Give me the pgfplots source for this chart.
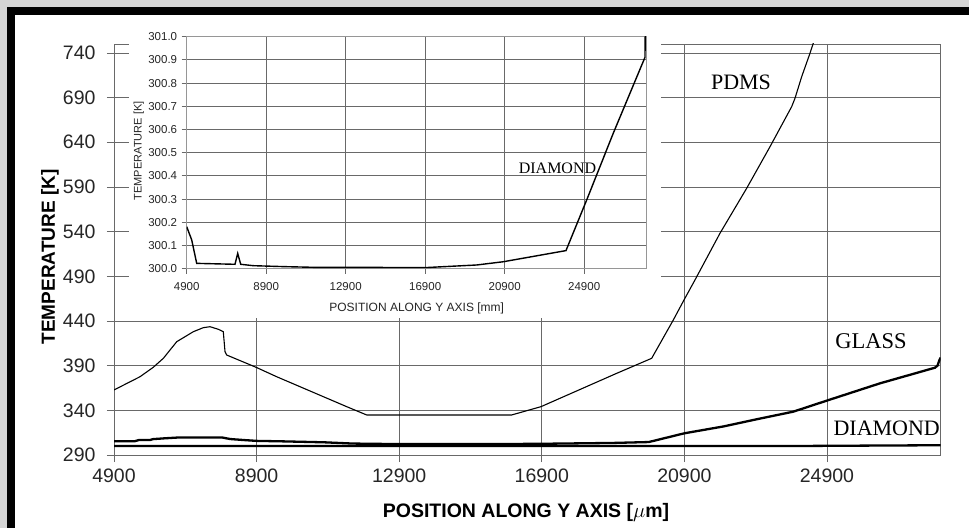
\documentclass[border=0pt]{standalone}
\usepackage{pgfplots}
\pgfplotsset{compat=1.18}
\usepackage{fontspec}
\setmainfont{Liberation Sans}
\newfontfamily\timesf{Liberation Serif}
\definecolor{framegray}{RGB}{212,212,212}
\definecolor{gridgray}{RGB}{105,105,105}
\begin{document}
\begin{tikzpicture}[x=1pt,y=1pt]
\fill[white] (0,0) rectangle (969,528);
\fill[framegray] (0,0) rectangle (7,528);
\fill[framegray] (0,521) rectangle (969,528);
\fill[black] (7,0) rectangle (15,521);
\fill[black] (7,513) rectangle (969,521);
\begin{axis}[
  at={(114pt,73pt)}, anchor=south west, scale only axis,
  width=826.7pt, height=411pt,
  xmin=4900, xmax=28090, ymin=290, ymax=750,
  xtick={4900,8900,12900,16900,20900,24900},
  ytick={290,340,390,440,490,540,590,640,690,740},
  grid=major, grid style={gridgray, line width=0.8pt},
  axis line style={gridgray, line width=0.8pt},
  tick style={gridgray, line width=0.8pt},
  tick pos=left, tick align=outside, major tick length=7pt,
  scaled ticks=false,
  /pgf/number format/assume math mode=true,
  /pgf/number format/1000 sep={},
  tick label style={font=\fontsize{19.5}{20}\selectfont, text=black!85, inner sep=0pt},
  xticklabel shift=7pt, yticklabel shift=11.3pt,
  xlabel={POSITION ALONG Y AXIS [$\mu$m]},
  ylabel={TEMPERATURE [K]},
  xlabel style={at={(axis description cs:0.4984,-0.1516)}, anchor=base, font=\bfseries\fontsize{19.5}{20}\selectfont, inner sep=0pt},
  ylabel style={at={(axis description cs:-0.0714,0.482)}, anchor=base, font=\bfseries\fontsize{19}{20}\selectfont, inner sep=0pt},
]
% PDMS
\addplot[black, line width=1.1pt] coordinates {
(4900,362.8) (5629,377.6) (6003,388.2) (6284,398.2) (6659,416.8) (7125,428) (7405,432.5) (7593,433.6) (7826,430.7) (7966,428) (8014,405.6) (8061,401.9) (8883,388.2) (9464,377.6) (10771,355.3) (11427,344.1) (11988,334.8) (16055,334.8) (16877,344.1) (19000,381.4) (19982,398.2) (20589,441.1) (20889,463.5) (21197,485.9) (21899,538.2) (22647,588.5) (23301,635) (23910,679.9) (24002,689.2) (24190,713.4) (24423,739.6) (24516,750.8) (24600,762)
};
% GLASS
\addplot[black, line width=2.3pt] coordinates {
(4900,305.5) (5489,305.5) (5600,306.8) (5910,306.8) (6000,307.8) (6331,308.7) (6751,309.7) (7921,309.7) (8154,307.9) (8520,306.8) (8900,305.8) (9600,305.3) (10800,304.2) (11600,302.8) (12900,302.2) (16000,302.3) (17200,302.7) (18900,303.5) (19900,304.5) (20900,314.3) (22000,322) (22928,330) (23955,338.5) (24891,350.8) (26386,370.2) (27929,387.7) (28000,390) (28050,396) (28090,399)
};
% DIAMOND
\addplot[black, line width=2.3pt] coordinates {
(4900,300.181) (5152,300.124) (5403,300.023) (7330,300.019) (7466,300.066) (7617,300.019) (8251,300.013) (9761,300.009) (11271,300.006) (16975,300.005) (19490,300.016) (20829,300.030) (23983,300.078) (25024,300.296) (26363,300.584) (27958,300.911) (28090,301.0)
};
\end{axis}
\fill[white] (129,210) rectangle (661,503);
\begin{axis}[
  at={(186.7pt,259.3pt)}, anchor=south west, scale only axis,
  width=460pt, height=232pt,
  xmin=4900, xmax=28045, ymin=300, ymax=301,
  xtick={4900,8900,12900,16900,20900,24900},
  ytick={300.0,300.1,300.2,300.3,300.4,300.5,300.6,300.7,300.8,300.9,301.0},
  grid=major, grid style={gridgray, line width=1pt},
  axis line style={gridgray!70, line width=0.8pt},
  tick style={gridgray, line width=0.8pt},
  tick pos=left, tick align=outside, major tick length=5pt,
  scaled ticks=false,
  /pgf/number format/assume math mode=true,
  /pgf/number format/1000 sep={},
  y tick label style={/pgf/number format/fixed, /pgf/number format/fixed zerofill, /pgf/number format/precision=1},
  tick label style={font=\fontsize{11.5}{12}\selectfont, text=black!85, inner sep=0pt},
  xticklabel shift=9pt, yticklabel shift=4.4pt,
  xlabel={POSITION ALONG Y AXIS [mm]},
  ylabel={TEMPERATURE [K]},
  xlabel style={at={(axis description cs:0.5,-0.1853)}, anchor=base, font=\fontsize{12}{13}\selectfont, text=black!85, inner sep=0pt},
  ylabel style={at={(axis description cs:-0.0978,0.508)}, anchor=base, font=\fontsize{11}{12}\selectfont, text=black!85, inner sep=0pt},
]
\addplot[black, line width=1.4pt] coordinates {
(4900,300.181) (5152,300.124) (5403,300.023) (7330,300.019) (7466,300.066) (7617,300.019) (8251,300.013) (9761,300.009) (11271,300.006) (16975,300.005) (19490,300.016) (20829,300.030) (23983,300.078) (25024,300.296) (26363,300.584) (27958,300.911) (27995,301.2)
};
\end{axis}
\node[font=\timesf\fontsize{22}{24}\selectfont, anchor=base, inner sep=0pt] at (741,438) {PDMS};
\node[font=\timesf\fontsize{22.5}{24}\selectfont, anchor=base, inner sep=0pt] at (871,179.7) {GLASS};
\node[font=\timesf\fontsize{22}{24}\selectfont, anchor=base, inner sep=0pt] at (886.7,93) {DIAMOND};
\node[font=\timesf\fontsize{16}{18}\selectfont, anchor=base, inner sep=0pt] at (557.5,354) {DIAMOND};
\end{tikzpicture}
\end{document}
